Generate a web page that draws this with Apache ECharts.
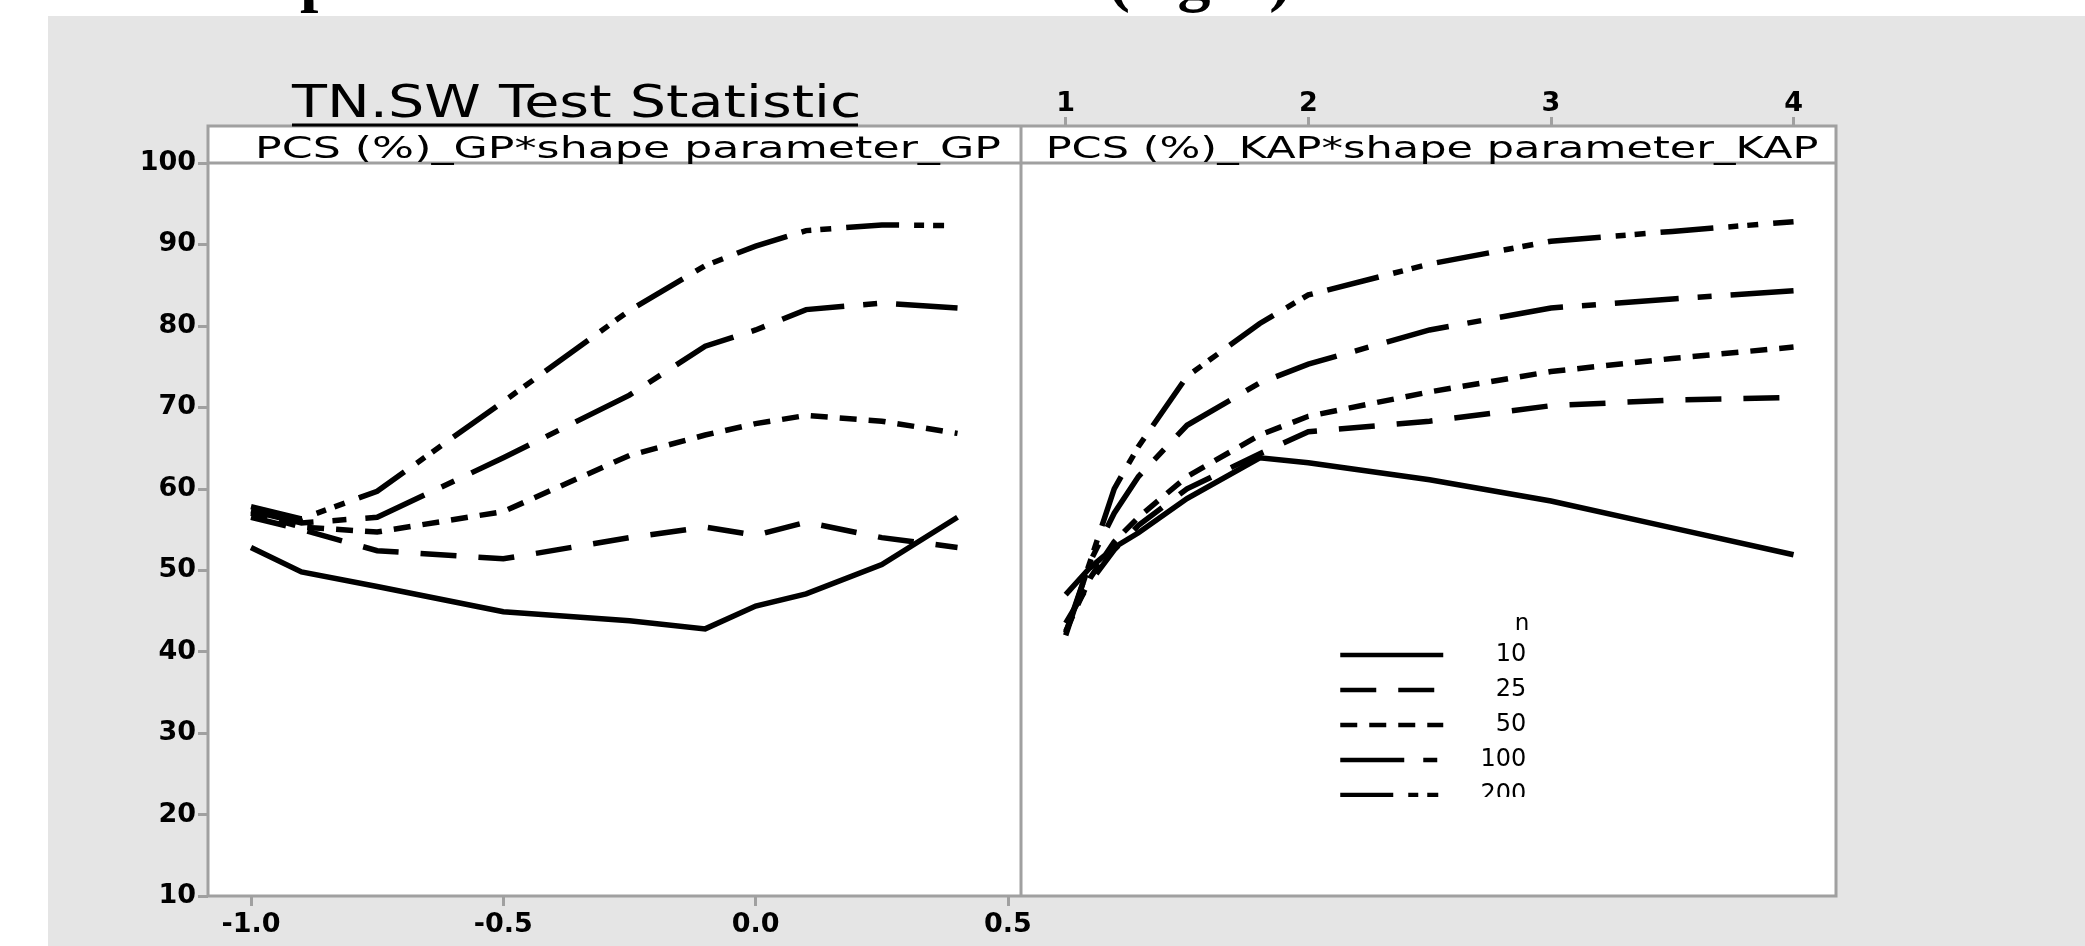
<!DOCTYPE html>
<html>
<head>
<meta charset="utf-8">
<script src="https://cdn.jsdelivr.net/npm/echarts@6/dist/echarts.min.js"></script>
<style>
html, body { margin: 0; padding: 0; background: #fff; }
#main { width: 2085px; height: 946px; }
</style>
</head>
<body>
<div id="main"></div>
<script>
const myChart = echarts.init(document.getElementById('main'));

// shape parameter values (x)
const gpShape = [-1.0, -0.9, -0.75, -0.5, -0.25, -0.1, 0.0, 0.1, 0.25, 0.4];
const kapShape = [1.0, 1.1, 1.2, 1.3, 1.5, 1.8, 2.0, 2.5, 3.0, 3.5, 4.0];
const sampleSizes = ['10', '25', '50', '100', '200'];
const gpTicks = [-1.0, -0.5, 0.0, 0.5];
const kapTicks = [1, 2, 3, 4];

// PCS (%) for GP, one array per n
const gp10 = [52.8, 49.8, 48.0, 44.9, 43.8, 42.8, 45.6, 47.1, 50.7, 56.5];
const gp25 = [56.5, 55.0, 52.4, 51.4, 54.0, 55.3, 54.3, 55.9, 54.0, 52.8];
const gp50 = [57.0, 55.3, 54.7, 57.2, 64.1, 66.6, 68.0, 69.0, 68.3, 66.8];
const gp100 = [57.3, 55.8, 56.5, 63.8, 71.5, 77.5, 79.5, 82.0, 82.8, 82.2];
const gp200 = [57.8, 56.3, 59.7, 70.7, 81.9, 87.4, 89.8, 91.7, 92.4, 92.3];

// PCS (%) for KAP
const kap10 = [47.0, 50.3, 52.8, 54.6, 58.8, 63.8, 63.2, 61.1, 58.5, 55.2, 51.9];
const kap25 = [43.5, 48.5, 52.5, 55.5, 60.0, 64.3, 67.0, 68.3, 70.2, 70.9, 71.2];
const kap50 = [42.5, 49.0, 53.5, 56.5, 61.5, 66.6, 68.9, 71.9, 74.4, 76.0, 77.4];
const kap100 = [42.0, 51.0, 57.0, 61.5, 67.8, 73.0, 75.3, 79.5, 82.2, 83.3, 84.3];
const kap200 = [42.3, 51.0, 60.0, 65.2, 73.8, 80.3, 83.8, 87.6, 90.4, 91.6, 92.8];

const gpData = [gp10, gp25, gp50, gp100, gp200];
const kapData = [kap10, kap25, kap50, kap100, kap200];

// line patterns, same order as sampleSizes
const dashTypes = ['solid', [36, 22], [17, 12], [64, 19, 14, 19], [53, 15, 10, 9, 11, 15]];

const frameColor = '#a0a0a0';
const lineWidth = 5.5;
const labelFont = {
    color: '#000',
    fontFamily: 'DejaVu Sans',
    fontWeight: 'bold',
    fontSize: 27
};

function pairs(xs, ys) {
    return xs.map((x, i) => [x, ys[i]]);
}

const series = [];
sampleSizes.forEach((n, i) => {
    const lineStyle = { color: '#000', width: lineWidth, type: dashTypes[i], cap: 'butt', join: 'miter' };
    series.push({
        name: n, type: 'line', xAxisIndex: 0, yAxisIndex: 0,
        symbol: 'none', lineStyle: lineStyle, itemStyle: { color: '#000' },
        data: pairs(gpShape, gpData[i])
    });
    series.push({
        name: n, type: 'line', xAxisIndex: 1, yAxisIndex: 1,
        symbol: 'none', lineStyle: lineStyle, itemStyle: { color: '#000' },
        data: pairs(kapShape, kapData[i])
    });
});

const option = {
    backgroundColor: '#fff',
    animation: false,
    grid: [
        { left: 208, top: 163, width: 813, height: 733 },
        { left: 1021, top: 163, width: 815, height: 733 }
    ],
    xAxis: [
        {
            type: 'value', gridIndex: 0, position: 'bottom',
            min: -1.0852, max: 0.5258,
            splitLine: { show: false },
            axisLine: { show: false, onZero: false },
            axisTick: { show: true, length: 10, customValues: gpTicks, lineStyle: { color: frameColor, width: 3 } },
            axisLabel: Object.assign({ margin: 15, customValues: gpTicks, formatter: v => v.toFixed(1) }, labelFont)
        },
        {
            type: 'value', gridIndex: 1, position: 'top', offset: 37,
            min: 0.8158, max: 4.175,
            splitLine: { show: false },
            axisLine: { show: false, onZero: false },
            axisTick: { show: true, length: 9, customValues: kapTicks, lineStyle: { color: frameColor, width: 3 } },
            axisLabel: Object.assign({ margin: 9, customValues: kapTicks }, labelFont)
        }
    ],
    yAxis: [
        {
            type: 'value', gridIndex: 0, min: 10, max: 100, interval: 10,
            splitLine: { show: false },
            axisLine: { show: false, onZero: false },
            axisTick: { show: true, length: 10, lineStyle: { color: frameColor, width: 3 } },
            axisLabel: Object.assign({ margin: 12 }, labelFont)
        },
        {
            type: 'value', gridIndex: 1, min: 10, max: 100, interval: 10,
            axisLine: { show: false, onZero: false },
            show: false
        }
    ],
    legend: {
        orient: 'vertical',
        left: 1333, top: 638,
        itemWidth: 103, itemHeight: 14, itemGap: 11,
        data: sampleSizes,
        itemStyle: { opacity: 0 },
        lineStyle: { width: 4.5 },
        formatter: name => '{v|' + name + '}',
        textStyle: {
            rich: {
                v: { width: 78, height: 20, lineHeight: 20, align: 'right', fontSize: 24, fontFamily: 'DejaVu Sans', color: '#000' }
            }
        },
        selectedMode: false
    },
    graphic: [
        // grey page behind the figure
        { type: 'rect', z: -10, shape: { x: 48, y: 16, width: 2037, height: 930 }, style: { fill: '#e5e5e5' } },
        // cut-off heading above the figure
        { type: 'text', z: -5, x: 300, y: 15, style: { text: 'p', font: 'bold 66px "Liberation Serif"', fill: '#000', verticalAlign: 'bottom' } },
        { type: 'text', z: -5, x: 1108, y: 15, style: { text: '(right)', font: 'bold 66px "Liberation Serif"', fill: '#000', verticalAlign: 'bottom' } },
        // panel frame
        { type: 'rect', z: -1, shape: { x: 208, y: 126, width: 1628, height: 770 }, style: { fill: '#fff', stroke: frameColor, lineWidth: 3 } },
        { type: 'line', z: 1, shape: { x1: 1021, y1: 126, x2: 1021, y2: 896 }, style: { stroke: frameColor, lineWidth: 3 } },
        { type: 'line', z: 1, shape: { x1: 208, y1: 163, x2: 1836, y2: 163 }, style: { stroke: frameColor, lineWidth: 3 } },
        // panel headers
        { type: 'text', z: 5, x: 628, y: 150, scaleX: 1.475,
          style: { text: 'PCS (%)_GP*shape parameter_GP', font: '30px "DejaVu Sans"', fill: '#000', align: 'center', verticalAlign: 'middle' } },
        { type: 'text', z: 5, x: 1432, y: 150, scaleX: 1.435,
          style: { text: 'PCS (%)_KAP*shape parameter_KAP', font: '30px "DejaVu Sans"', fill: '#000', align: 'center', verticalAlign: 'middle' } },
        // title with underline
        { type: 'text', z: 5, x: 292, y: 106, scaleX: 1.30,
          style: { text: 'TN.SW Test Statistic', font: '44px "DejaVu Sans"', fill: '#000', align: 'left', verticalAlign: 'middle' } },
        { type: 'line', z: 5, shape: { x1: 292, y1: 125, x2: 858, y2: 125 }, style: { stroke: '#000', lineWidth: 3 } },
        // legend heading and clipping of the last legend row
        { type: 'text', z: 5, x: 1522, y: 624, style: { text: 'n', font: '23px "DejaVu Sans"', fill: '#000', align: 'center', verticalAlign: 'middle' } },
        { type: 'rect', z: 100, shape: { x: 1325, y: 797, width: 245, height: 60 }, style: { fill: '#fff' } }
    ],
    series: series
};

myChart.setOption(option);
</script>
</body>
</html>
